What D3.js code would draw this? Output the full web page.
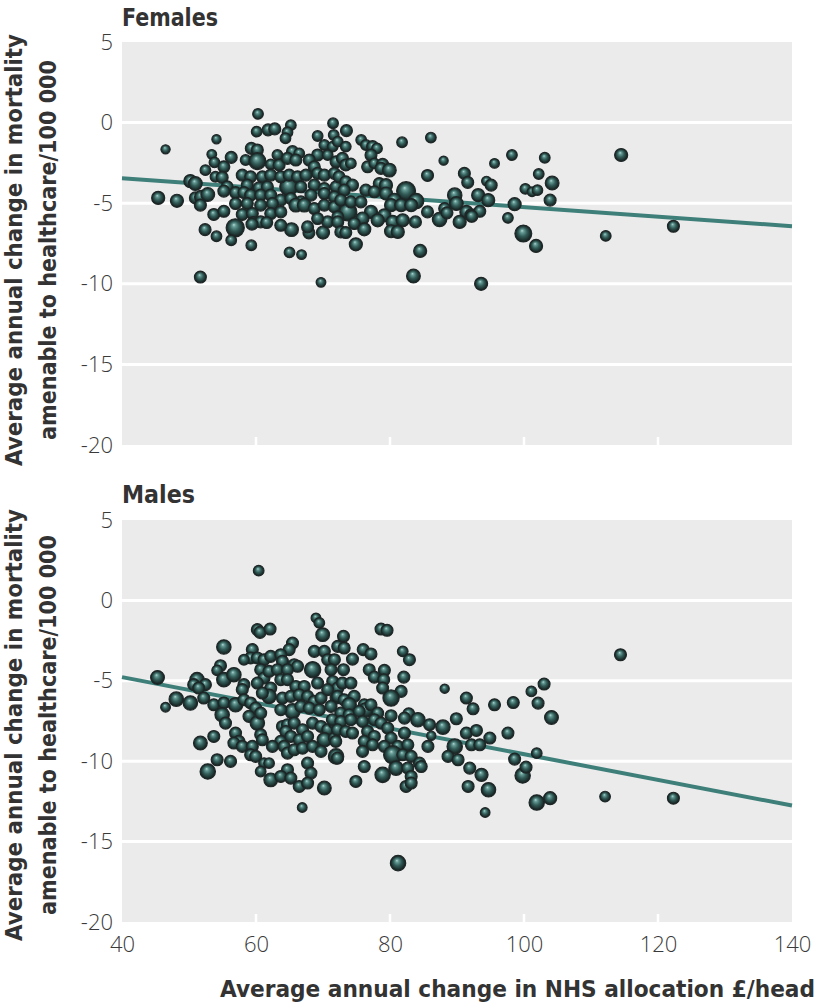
<!DOCTYPE html>
<html><head><meta charset="utf-8">
<script src="https://cdn.jsdelivr.net/npm/d3@7"></script>
<style>body{margin:0;background:#fff}svg{display:block}</style>
</head><body>
<svg id="chart" width="820" height="1008"></svg>
<script>
// ---------- DATA ----------
const xTicks = [40, 60, 80, 100, 120, 140];
const yTicks = [5, 0, -5, -10, -15, -20];
const xDomain = [40, 140];
const yDomain = [-20, 5];
const panelTitles = ["Females", "Males"];
const xTitle = "Average annual change in NHS allocation £/head";
const yTitleLines = ["Average annual change in mortality", "amenable to healthcare/100 000"];
// regression lines: [x, y] at both ends
const femaleTrend = [[40, -3.45], [140, -6.43]];
const maleTrend = [[40, -4.77], [140, -12.76]];
// points: [NHS allocation change, mortality change, population weight]
const femalePoints = [
[60.3,0.54,1.2],[46.5,-1.66,0.9],[54.1,-1.03,0.9],[45.4,-4.67,1.8],[48.2,-4.85,1.8],[51.7,-9.58,1.5],[69.7,-9.91,1.0],
[83.5,-9.52,2.0],[84.5,-7.96,1.8],[74.9,-7.55,1.8],[65.0,-8.05,1.2],[66.8,-8.19,1.0],[59.3,-7.61,1.2],[56.9,-6.53,3.5],
[52.4,-6.64,1.5],[54.1,-7.05,1.2],[56.3,-7.3,1.2],[81.8,-1.22,1.2],[86.1,-0.93,1.2],[88.0,-2.36,0.9],[85.6,-3.28,1.5],
[87.4,-6.01,2.2],[85.6,-5.54,1.5],[83.8,-6.16,1.5],[82.4,-4.25,3.8],[83.9,-4.87,2.5],[73.7,-5.54,3.5],[64.9,-3.98,3.5],
[70.0,-6.82,1.8],[65.3,-6.64,2.0],[67.9,-6.84,1.5],[71.5,-0.04,1.2],[73.5,-0.5,1.5],[65.2,-0.16,1.2],[64.7,-0.6,1.2],
[64.4,-0.97,1.2],[61.8,-0.45,1.5],[62.8,-0.39,1.5],[60.1,-0.56,1.2],[69.2,-0.83,1.2],[71.6,-0.77,1.2],[75.7,-1.08,1.2],
[53.4,-1.97,1.0],[53.8,-2.47,1.2],[56.3,-2.16,1.5],[52.45,-2.95,1.2],[53.95,-3.36,1.2],[55.2,-2.74,1.5],[54.95,-3.4,1.5],
[50.2,-3.63,1.8],[50.95,-3.78,2.0],[50.95,-4.67,1.5],[51.8,-4.61,1.8],[52.8,-4.46,2.0],[51.7,-5.12,1.5],[53.7,-5.7,1.5],
[55.2,-5.5,1.5],[70.2,-1.39,1.2],[71.45,-1.49,1.2],[59.3,-1.6,1.5],[60.2,-1.7,1.5],[63.2,-2.01,1.2],[65.45,-1.8,1.5],
[66.45,-1.91,1.2],[69.2,-2.01,1.5],[70.7,-2.01,1.2],[72.2,-1.18,1.2],[58.45,-2.32,1.2],[60.2,-2.39,3.0],[62.2,-2.59,1.2],
[63.45,-2.63,1.5],[64.7,-2.22,1.5],[65.95,-2.32,1.5],[67.95,-2.32,1.5],[68.7,-2.74,1.5],[71.95,-2.43,1.5],[57.95,-3.26,1.5],
[59.2,-3.36,1.5],[60.95,-3.36,1.5],[62.2,-3.26,1.5],[63.7,-3.36,1.5],[64.95,-3.26,1.5],[66.2,-3.36,1.5],[67.45,-3.26,1.5],
[69.2,-3.15,1.5],[70.2,-3.26,1.5],[71.7,-3.15,1.5],[55.7,-3.98,1.5],[58.7,-3.88,1.5],[60.45,-4.05,1.5],[61.7,-3.98,1.5],
[66.7,-3.98,1.5],[68.7,-3.88,1.5],[70.2,-4.09,1.5],[71.95,-3.98,1.5],[55.2,-4.25,1.5],[56.95,-4.34,1.5],[58.2,-4.34,1.5],
[59.2,-4.5,1.5],[60.7,-4.5,1.5],[62.2,-4.5,1.5],[63.7,-4.81,1.5],[65.2,-4.71,1.5],[66.7,-4.92,1.5],[68.2,-4.5,1.5],
[70.2,-4.4,1.5],[71.7,-4.61,1.5],[56.95,-5.02,1.5],[58.7,-5.02,1.5],[60.7,-5.12,1.5],[62.45,-5.02,1.5],[65.95,-5.12,2.0],
[67.2,-5.12,2.0],[68.7,-5.33,1.5],[70.2,-5.12,1.5],[71.7,-5.23,1.5],[57.95,-5.7,1.5],[59.45,-5.64,1.5],[62.2,-5.64,1.5],
[63.7,-5.54,1.5],[72.2,-5.85,1.5],[59.6,-6.2,1.5],[60.7,-6.16,1.5],[61.6,-6.2,1.5],[63.7,-6.37,1.5],[67.7,-6.47,1.5],
[70.7,-6.16,1.5],[69.2,-5.95,1.5],[72.2,-6.16,1.5],[76.4,-1.39,1.2],[77.4,-1.49,1.5],[78.06,-1.6,1.2],[73.4,-1.49,1.2],
[77.16,-2.01,1.5],[72.9,-2.22,1.5],[73.4,-2.63,1.5],[74.16,-2.53,1.2],[76.66,-2.74,1.5],[77.66,-2.53,1.2],[78.9,-2.59,1.5],
[78.66,-2.84,1.5],[79.9,-2.95,2.0],[72.4,-3.36,1.5],[73.4,-3.67,1.5],[74.4,-3.88,1.5],[73.16,-4.19,1.5],[78.4,-3.78,1.5],
[79.4,-3.88,1.8],[76.4,-4.19,1.5],[77.66,-4.29,1.5],[79.4,-4.4,1.8],[89.66,-4.5,2.2],[93.16,-4.5,1.8],[72.66,-4.81,1.5],
[74.16,-4.92,1.5],[75.66,-4.92,1.5],[80.66,-4.81,2.0],[88.16,-5.33,1.5],[89.9,-5.02,2.0],[94.66,-4.81,1.8],[80.16,-5.12,1.8],
[81.66,-5.12,1.8],[83.16,-5.12,1.8],[77.16,-5.54,1.8],[79.16,-5.75,1.8],[91.4,-5.54,1.8],[92.16,-5.75,1.8],[93.4,-5.5,1.5],
[90.4,-6.16,1.8],[75.9,-5.95,1.8],[74.66,-6.26,1.5],[78.16,-6.06,1.8],[80.4,-6.16,1.8],[81.9,-6.06,1.8],[76.16,-6.62,1.8],
[72.66,-6.78,1.5],[73.4,-6.82,1.5],[80.16,-6.74,1.8],[81.16,-6.78,1.8],[93.6,-10.0,1.8],[95.6,-2.53,1.0],[98.2,-2.01,1.2],
[103.1,-2.18,1.2],[102.2,-3.19,1.2],[104.2,-3.75,2.0],[100.2,-4.11,1.2],[101.2,-4.29,1.0],[102.0,-4.19,1.2],[103.9,-4.81,1.5],
[98.6,-5.06,1.8],[97.6,-5.91,1.2],[99.9,-6.88,3.0],[101.8,-7.65,1.8],[112.2,-7.03,1.2],[114.5,-2.01,1.8],[122.3,-6.43,1.5],
[91.1,-3.15,1.5],[91.6,-3.71,1.5],[94.4,-3.63,1.0],[95.1,-3.88,1.5],[92.2,-5.81,1.5],[88.5,-5.6,1.5],[59.4,-6.3,1.5]
];
const malePoints = [
[60.4,1.85,1.2],[45.3,-4.79,2.0],[46.5,-6.64,1.0],[48.1,-6.14,2.2],[66.9,-12.88,1.0],[81.2,-16.34,2.5],
[114.4,-3.38,1.5],[112.1,-12.2,1.2],[122.3,-12.3,1.5],[101.9,-12.57,2.5],[103.9,-12.3,1.8],[94.2,-13.19,1.0],[94.7,-11.78,2.2],
[99.8,-10.89,2.5],[100.3,-10.37,1.5],[98.6,-9.87,1.5],[101.9,-9.5,1.2],[97.6,-8.25,1.5],[104.1,-7.28,2.0],[102.1,-6.39,1.5],
[101.1,-5.66,1.2],[103.0,-5.2,1.5],[98.4,-6.35,1.5],[95.6,-6.49,1.5],
[68.95,-1.09,1.0],[69.45,-1.4,1.2],[69.95,-2.13,2.0],[60.2,-1.82,1.5],[60.6,-1.99,1.5],[62.1,-1.78,1.5],[55.2,-2.9,2.2],
[65.45,-2.65,1.5],[64.95,-3.06,1.5],[59.45,-3.06,1.5],[59.2,-3.58,1.5],[58.2,-3.69,1.2],[60.2,-3.58,1.5],[68.7,-3.17,1.5],
[70.2,-3.17,1.5],[72.2,-2.86,1.5],[54.7,-4.06,1.5],[54.2,-4.35,1.2],[61.2,-3.69,1.5],[62.2,-3.48,1.5],[63.7,-3.38,1.5],
[63.95,-3.79,1.5],[65.7,-4.0,1.5],[66.2,-4.1,1.5],[68.45,-4.31,2.8],[70.7,-3.69,1.5],[71.7,-3.69,1.5],[71.2,-4.31,1.5],
[51.2,-4.93,2.2],[50.7,-5.24,1.5],[52.45,-5.24,1.5],[51.45,-5.45,1.5],[55.2,-4.93,2.2],[56.7,-4.62,2.2],[58.2,-5.24,1.5],
[57.95,-5.55,1.5],[60.7,-4.31,1.5],[61.2,-4.83,1.5],[60.2,-5.14,1.5],[61.95,-4.41,1.5],[63.2,-4.31,1.5],[64.7,-4.31,1.5],
[63.7,-4.93,1.5],[64.7,-4.93,1.5],[62.2,-5.45,1.5],[61.95,-5.97,2.2],[60.95,-5.76,1.5],[65.95,-5.35,1.5],[67.2,-5.35,1.5],
[69.2,-5.14,1.5],[71.45,-5.04,1.5],[72.2,-5.45,1.5],[50.2,-6.38,2.2],[52.2,-6.07,1.5],[53.7,-6.49,1.5],[55.2,-6.38,1.5],
[56.95,-6.49,2.2],[58.2,-6.18,1.5],[59.2,-6.38,1.5],[59.95,-6.7,1.5],[63.95,-6.07,1.5],[65.2,-5.97,1.5],[66.45,-5.87,1.5],
[67.7,-5.97,1.5],[68.7,-6.28,1.5],[69.7,-6.07,1.5],[70.7,-5.55,1.5],[71.95,-6.07,1.5],[65.45,-6.9,2.5],[63.7,-6.8,1.5],
[66.7,-6.59,1.5],[67.95,-6.7,1.5],[69.45,-6.8,1.5],[71.2,-6.59,1.5],[54.95,-7.11,2.2],[55.45,-7.63,1.5],[58.95,-7.21,1.5],
[60.2,-7.63,2.2],[60.7,-7.01,1.5],[63.95,-7.84,1.5],[64.7,-7.73,1.5],[64.45,-8.15,1.5],[65.7,-7.63,1.5],[66.95,-8.04,1.5],
[68.45,-7.63,1.5],[69.7,-7.84,1.5],[70.7,-8.04,1.5],[71.7,-7.63,1.5],[56.95,-8.25,1.5],[57.45,-8.77,1.5],[56.7,-8.87,1.5],
[57.95,-9.08,1.5],[59.45,-9.08,1.5],[60.7,-8.35,1.5],[60.95,-8.67,1.5],[63.7,-8.77,1.5],[65.2,-8.46,1.5],[66.45,-8.67,1.5],
[67.7,-8.46,1.5],[70.2,-8.67,2.2],[71.7,-8.56,1.5],[51.7,-8.87,2.0],[53.7,-8.46,1.5],[59.2,-9.6,1.5],[59.95,-9.7,1.5],
[62.45,-9.08,1.5],[64.2,-9.08,1.5],[64.7,-9.5,1.5],[65.7,-9.29,1.5],[66.95,-9.19,1.5],[68.45,-9.08,1.5],[69.7,-9.39,1.5],
[71.95,-9.7,2.5],[54.2,-9.91,1.5],[56.2,-10.01,1.5],[61.2,-10.12,1.2],[61.95,-10.12,1.2],[64.7,-10.53,1.5],[67.7,-10.12,1.5],
[68.2,-10.74,1.5],[52.8,-10.64,2.5],[60.7,-10.64,1.2],[62.2,-11.16,2.0],[63.7,-10.95,1.5],[65.2,-11.05,1.5],[66.45,-11.57,1.5],
[67.7,-11.36,1.5],[70.2,-11.67,2.0],
[78.66,-1.78,1.5],[79.56,-1.86,1.5],[73.06,-2.23,1.5],[73.16,-2.96,1.5],[76.0,-3.06,1.5],[77.16,-3.33,1.5],[81.9,-3.17,1.2],
[82.9,-3.69,1.5],[74.4,-3.65,1.5],[73.06,-4.31,1.5],[76.9,-4.31,1.5],[77.66,-4.77,1.5],[79.16,-4.35,1.5],[79.06,-4.93,1.5],
[82.06,-4.77,1.5],[72.9,-5.14,1.5],[74.16,-5.14,1.5],[78.9,-5.45,1.5],[81.66,-5.66,1.5],[80.16,-6.07,2.8],[88.16,-5.49,0.9],
[91.4,-6.07,1.5],[92.4,-6.74,1.5],[72.16,-5.97,1.5],[73.16,-6.18,1.5],[74.66,-5.97,1.5],[73.9,-6.49,2.2],[76.16,-6.49,1.5],
[76.4,-6.8,2.2],[77.16,-6.49,1.5],[72.66,-7.01,1.5],[73.9,-7.11,1.5],[75.4,-6.9,1.5],[78.16,-7.01,1.5],[80.16,-7.17,1.5],
[82.8,-7.05,1.5],[84.16,-7.42,2.2],[82.16,-7.32,1.5],[71.4,-7.42,1.5],[72.66,-7.53,1.5],[74.16,-7.42,1.5],[75.9,-7.53,1.5],
[77.66,-7.42,1.5],[78.66,-7.63,1.5],[79.66,-7.94,1.5],[82.16,-8.25,1.5],[85.9,-7.73,1.5],[87.9,-7.88,2.2],[89.9,-7.36,1.5],
[91.4,-8.25,1.5],[92.9,-8.09,1.5],[94.9,-8.56,1.5],[72.16,-8.04,1.5],[73.4,-8.15,1.5],[74.4,-8.25,1.5],[76.66,-8.15,1.5],
[77.66,-8.46,1.5],[80.16,-8.56,1.5],[86.16,-8.42,0.9],[71.9,-8.77,1.5],[76.16,-8.77,1.5],[77.4,-8.98,1.5],[79.16,-9.08,1.5],
[81.16,-9.08,1.5],[82.66,-8.98,1.5],[85.66,-9.08,1.5],[89.66,-9.08,2.5],[92.16,-8.98,1.5],[93.4,-8.98,1.5],[75.9,-9.39,1.5],
[80.4,-9.6,3.5],[81.9,-9.6,1.5],[83.16,-9.7,1.5],[88.66,-9.7,1.5],[90.16,-9.91,1.5],[72.16,-9.81,1.5],[76.16,-10.33,1.5],
[78.9,-10.85,2.5],[80.9,-10.43,2.2],[82.66,-10.43,1.5],[84.4,-10.12,1.5],[84.66,-10.33,1.5],[83.16,-10.95,1.5],[82.4,-11.57,1.5],
[83.16,-11.36,1.5],[74.9,-11.26,1.5],[91.9,-10.43,1.5],[93.66,-10.85,1.8],[91.66,-11.57,1.5]
];

// ---------- DRAW ----------
const svg = d3.select("#chart");
const left = 122, right = 792;
const panels = [
  {title: panelTitles[0], pts: femalePoints, trend: femaleTrend, top: 42, bottom: 445, titleY: 26, yTitleC: 250},
  {title: panelTitles[1], pts: malePoints, trend: maleTrend, top: 520, bottom: 922, titleY: 503, yTitleC: 725}
];
const x = d3.scaleLinear().domain(xDomain).range([left, right]);
const r = d3.scaleSqrt().domain([0, 4.5]).range([0, 10.3]);

const defs = svg.append("defs");
const grad = defs.append("radialGradient").attr("id", "ball")
  .attr("cx", "50%").attr("cy", "50%").attr("r", "50%").attr("fx", "42%").attr("fy", "32%");
[[0, "#b3d6d1"], [0.2, "#659a94"], [0.52, "#335d59"], [0.82, "#1e3432"], [1, "#151d1c"]]
  .forEach(([o, c]) => grad.append("stop").attr("offset", o).attr("stop-color", c));

const tickFont = "'Open Sans', 'DejaVu Sans', sans-serif";
const boldFont = "'Liberation Sans Narrow', 'DejaVu Sans Condensed', 'Open Sans', sans-serif";

panels.forEach((p, i) => {
  const y = d3.scaleLinear().domain(yDomain).range([p.bottom, p.top]);
  const g = svg.append("g");
  g.append("rect").attr("x", left).attr("y", p.top).attr("width", right - left)
    .attr("height", p.bottom - p.top).attr("fill", "#ebebeb");
  g.selectAll(".grid").data(yTicks.filter(t => t > yDomain[0] && t < yDomain[1])).join("line")
    .attr("x1", left).attr("x2", right).attr("y1", d => y(d)).attr("y2", d => y(d))
    .attr("stroke", "#fff").attr("stroke-width", 3);
  g.selectAll(".xt").data(xTicks.filter(t => t > xDomain[0] && t < xDomain[1])).join("line")
    .attr("x1", d => x(d)).attr("x2", d => x(d)).attr("y1", p.bottom).attr("y2", p.bottom - 8)
    .attr("stroke", "#fff").attr("stroke-width", 2.5);
  const ya = g.append("g").attr("transform", `translate(${left},0)`)
    .call(d3.axisLeft(y).tickValues(yTicks).tickSize(0).tickPadding(9).tickFormat(d => String(d)));
  ya.select(".domain").remove();
  ya.selectAll("text").attr("font-family", tickFont).attr("font-weight", 300)
    .attr("font-size", 22).attr("fill", "#3a3a3a");
  g.append("path").datum(p.trend)
    .attr("d", d3.line().x(d => x(d[0])).y(d => y(d[1])))
    .attr("stroke", "#3e7f7a").attr("stroke-width", 4).attr("fill", "none");
  g.selectAll("circle").data(p.pts).join("circle")
    .attr("cx", d => x(d[0])).attr("cy", d => y(d[1])).attr("r", d => r(d[2]))
    .attr("fill", "url(#ball)").attr("stroke", "#1e2626").attr("stroke-width", 1.2);
  g.append("text").attr("x", left).attr("y", p.titleY).text(p.title)
    .attr("font-family", boldFont).attr("font-weight", 700).attr("font-size", 24)
    .attr("fill", "#333").attr("textLength", i === 0 ? 96 : 73).attr("lengthAdjust", "spacingAndGlyphs");
  const yt = g.append("g").attr("transform", `translate(0,${p.yTitleC}) rotate(-90)`);
  yt.append("text").attr("x", 0).attr("y", 22).attr("text-anchor", "middle").text(yTitleLines[0])
    .attr("font-family", boldFont).attr("font-weight", 700).attr("font-size", 23).attr("fill", "#333")
    .attr("textLength", 432).attr("lengthAdjust", "spacingAndGlyphs");
  yt.append("text").attr("x", 0).attr("y", 56).attr("text-anchor", "middle").text(yTitleLines[1])
    .attr("font-family", boldFont).attr("font-weight", 700).attr("font-size", 23).attr("fill", "#333")
    .attr("textLength", 380).attr("lengthAdjust", "spacingAndGlyphs");

  if (i === 1) {
    const xa = g.append("g").attr("transform", `translate(0,${p.bottom})`)
      .call(d3.axisBottom(x).tickValues(xTicks).tickSize(0).tickPadding(14));
    xa.select(".domain").remove();
    xa.selectAll("text").attr("font-family", tickFont).attr("font-weight", 300)
      .attr("font-size", 22).attr("fill", "#3a3a3a");
  }
});

svg.append("text").attr("x", 815).attr("y", 997).attr("text-anchor", "end").text(xTitle)
  .attr("font-family", boldFont).attr("font-weight", 700).attr("font-size", 23).attr("fill", "#333")
  .attr("textLength", 595).attr("lengthAdjust", "spacingAndGlyphs");
</script>
</body></html>
